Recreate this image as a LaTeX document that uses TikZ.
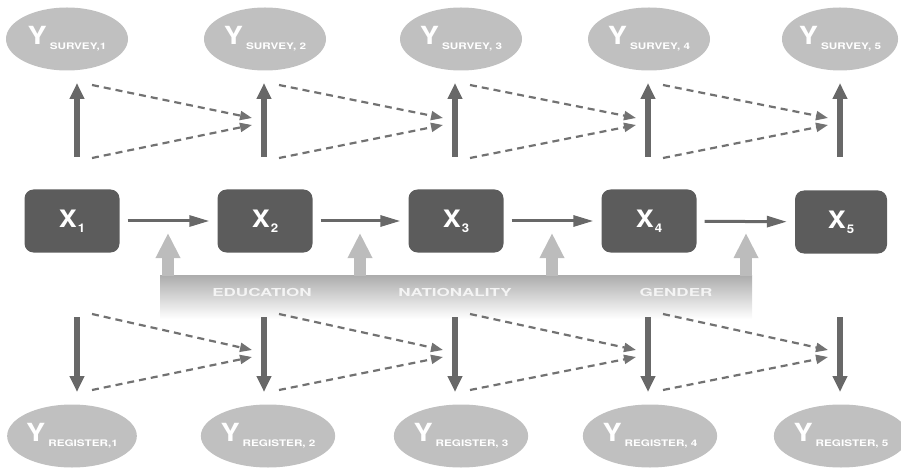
\documentclass[tikz,border=0pt]{standalone}
\usepackage{fontspec}
\setmainfont{TeX Gyre Heros}
\usetikzlibrary{arrows.meta,shapes.geometric}

\definecolor{ovalgray}{RGB}{192,192,192}
\definecolor{boxgray}{RGB}{92,92,92}
\definecolor{arrowgray}{RGB}{104,104,104}
\definecolor{dashgray}{RGB}{114,114,114}
\definecolor{bandgray}{RGB}{172,172,172}
\definecolor{liftgray}{RGB}{188,188,188}
\definecolor{bandtext}{RGB}{244,244,244}

% Y with an index below the line, X with a numeric index
\newcommand{\ylabel}[1]{\scalebox{1.15}[1]{\fontsize{25}{25}\selectfont\bfseries Y}\hspace{3pt}%
  \raisebox{-5pt}{\scalebox{1.3}[1]{\fontsize{9}{9}\selectfont\bfseries #1}}}
\newcommand{\xlabel}[1]{\scalebox{1.12}[1]{\fontsize{24}{24}\selectfont\bfseries X}\hspace{1pt}%
  \raisebox{-5pt}{\scalebox{1.1}[1]{\fontsize{12}{12}\selectfont\bfseries #1}}}
\newcommand{\bandword}[1]{\scalebox{1.55}[1]{#1}}

\begin{document}
\begin{tikzpicture}[x=1pt,y=-1pt,
  oval/.style={ellipse, fill=ovalgray, minimum width=122pt, minimum height=63pt,
    inner sep=0pt, text=white},
  xbox/.style={rectangle, rounded corners=9pt, fill=boxgray, minimum width=95pt,
    minimum height=63pt, inner sep=0pt, text=white},
  vconn/.style={draw=arrowgray, line width=5.5pt, -{Triangle[length=16pt,width=14pt]}},
  hconn/.style={draw=arrowgray, line width=3pt, shorten <=8pt, shorten >=8pt,
    -{Triangle[length=20pt,width=11pt]}},
  dconn/.style={draw=dashgray, line width=2.2pt, dash pattern=on 7pt off 5pt,
    -{Triangle[length=12pt,width=9pt]}},
  lift/.style={draw=liftgray, line width=12pt, -{Triangle[length=25pt,width=23pt]}},
  bandlabel/.style={text=bandtext, font=\fontsize{11}{11}\selectfont\bfseries},
]
\useasboundingbox (0,0) rectangle (901,470);

% survey outcomes
\node[oval] (ys1) at (67,39)  {\ylabel{SURVEY,1}};
\node[oval] (ys2) at (265,39) {\ylabel{SURVEY, 2}};
\node[oval] (ys3) at (461,39) {\ylabel{SURVEY, 3}};
\node[oval] (ys4) at (649,39) {\ylabel{SURVEY, 4}};
\node[oval, minimum width=114pt] (ys5) at (840,39) {\ylabel{SURVEY, 5}};

% register outcomes
\node[oval] (yr1) at (72,436)  {\ylabel{REGISTER,1}};
\node[oval] (yr2) at (268,436) {\ylabel{REGISTER, 2}};
\node[oval] (yr3) at (461,436) {\ylabel{REGISTER, 3}};
\node[oval] (yr4) at (650,436) {\ylabel{REGISTER, 4}};
\node[oval, minimum width=114pt] (yr5) at (841,436) {\ylabel{REGISTER, 5}};

% latent states
\node[xbox] (x1) at (72,221)  {\xlabel{1}};
\node[xbox] (x2) at (265,221) {\xlabel{2}};
\node[xbox] (x3) at (456,221) {\xlabel{3}};
\node[xbox] (x4) at (649,221) {\xlabel{4}};
\node[xbox, minimum width=92pt] (x5) at (841,222) {\xlabel{5}};

\foreach \a/\b in {1/2,2/3,3/4,4/5}
  \draw[hconn] (x\a) -- (x\b);

% covariate band
\shade[top color=bandgray, bottom color=white] (160,275) rectangle (752,319);
\node[bandlabel] (edu) at (262,292) {\bandword{EDUCATION}};
\node[bandlabel] (nat) at (455,292) {\bandword{NATIONALITY}};
\node[bandlabel] (gen) at (676,292) {\bandword{GENDER}};

\foreach \i/\lx in {1/168,2/360,3/552,4/746}{
  \coordinate (lb\i) at (\lx,276);
  \coordinate (lt\i) at (\lx,233);
  \draw[lift] (lb\i) -- (lt\i);
}

% measurement arrows and the dashed carry-over arrows
\foreach \i/\ax in {1/77,2/264,3/455,4/648,5/840}{
  \coordinate (su\i) at (\ax,157);
  \coordinate (sv\i) at (\ax,83);
  \coordinate (ru\i) at (\ax,317);
  \coordinate (rv\i) at (\ax,392);
  \coordinate (sa\i) at (\ax+15,85);
  \coordinate (sb\i) at (\ax+15,158);
  \coordinate (sta\i) at (\ax-12,118);
  \coordinate (stb\i) at (\ax-12,125);
  \coordinate (ra\i) at (\ax+15,314);
  \coordinate (rb\i) at (\ax+15,390);
  \coordinate (rta\i) at (\ax-12,350);
  \coordinate (rtb\i) at (\ax-12,357);
  \draw[vconn] (su\i) -- (sv\i);
  \draw[vconn] (ru\i) -- (rv\i);
}
\foreach \a/\b in {1/2,2/3,3/4,4/5}{
  \draw[dconn] (sa\a) -- (sta\b);
  \draw[dconn] (sb\a) -- (stb\b);
  \draw[dconn] (ra\a) -- (rta\b);
  \draw[dconn] (rb\a) -- (rtb\b);
}
\end{tikzpicture}
\end{document}
